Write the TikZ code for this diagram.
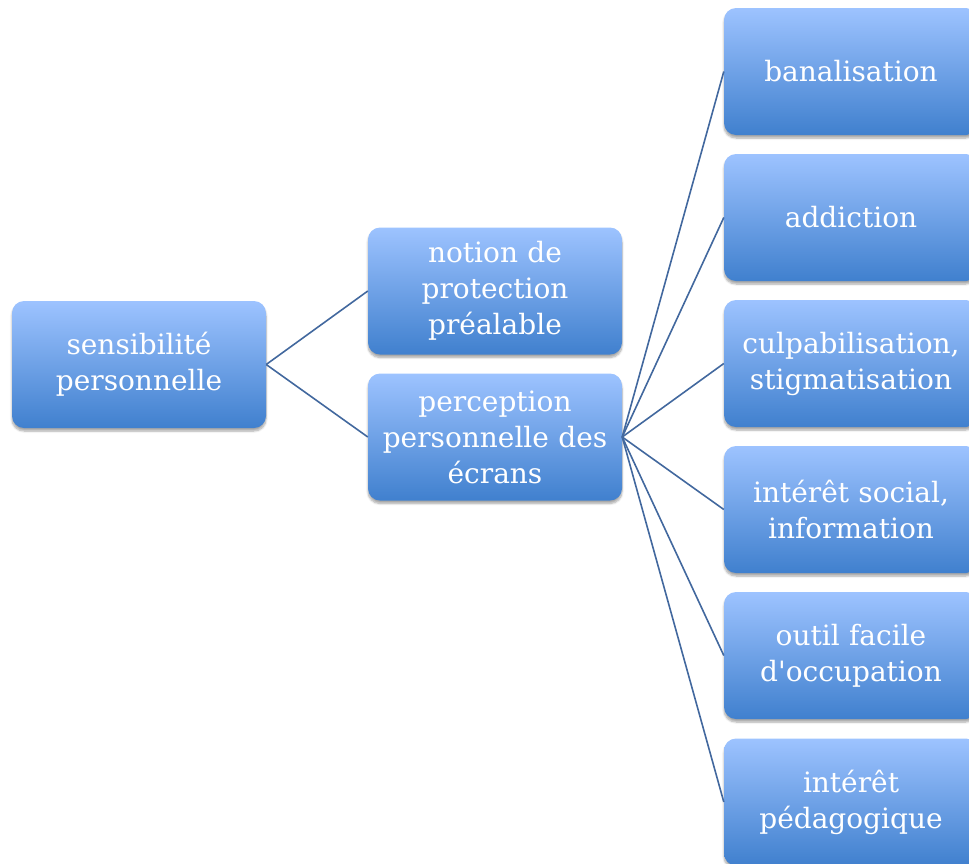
\documentclass[tikz,border=0pt]{standalone}
\usepackage{fontspec}
\setmainfont{DejaVu Serif}
\usetikzlibrary{shadows.blur}
\definecolor{boxtop}{RGB}{157,195,255}
\definecolor{boxbot}{RGB}{64,128,206}
\definecolor{linkcol}{RGB}{66,104,158}
\newcommand{\straightquote}{\XeTeXglyph\XeTeXcharglyph"27\relax}
\tikzset{
  box/.style={rectangle, rounded corners=12pt, minimum width=254pt, minimum height=127pt,
    top color=boxtop, bottom color=boxbot, draw=none, text=white,
    text width=250pt, align=center, inner sep=0pt,
    font=\fontsize{28}{36}\selectfont,
    blur shadow={shadow blur steps=6, shadow xshift=0pt, shadow yshift=-3pt, shadow opacity=35}},
  link/.style={draw=linkcol, line width=1.6pt}
}
\begin{document}
\begin{tikzpicture}[x=1pt,y=-1pt]
\useasboundingbox (0,0) rectangle (969,863);
\clip (0,0) rectangle (969,863);
\node[box] (s) at (139,364.5) {sensibilité\\personnelle};
\node[box] (n) at (495,291) {notion de\\protection\\préalable};
\node[box] (p) at (495,437) {perception\\personnelle des\\écrans};
\node[box] (c1) at (851,71.5) {banalisation};
\node[box] (c2) at (851,217.5) {addiction};
\node[box] (c3) at (851,363.5) {culpabilisation,\\stigmatisation};
\node[box] (c4) at (851,509.5) {intérêt social,\\information};
\node[box] (c5) at (851,655.5) {outil facile\\d\straightquote occupation};
\node[box] (c6) at (851,802) {intérêt\\pédagogique};
\draw[link] (s.east) -- (n.west);
\draw[link] (s.east) -- (p.west);
\foreach \c in {c1,c2,c3,c4,c5,c6} \draw[link] (p.east) -- (\c.west);
\end{tikzpicture}
\end{document}
